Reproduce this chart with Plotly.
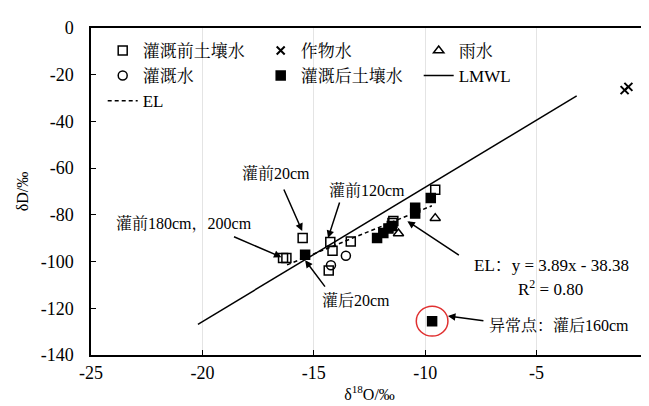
import plotly.graph_objects as go

# Data
pre_x = [-15.5, -16.38, -16.23, -14.26, -14.16, -13.34, -14.33, -11.47, -9.55, -11.43]
pre_y = [-89.9, -98.5, -98.5, -91.6, -95.4, -91.4, -103.8, -83.5, -69.2, -82.6]
crop_x = [-1.05, -0.88]
crop_y = [-26.6, -25.2]
rain_x = [-11.2, -9.55]
rain_y = [-88.0, -81.4]
irr_x = [-14.23, -13.56]
irr_y = [-101.6, -97.5]
post_x = [-15.39, -12.16, -11.88, -11.65, -11.5, -10.45, -10.45, -9.75, -9.69]
post_y = [-97.1, -89.9, -87.8, -85.8, -84.8, -77.0, -79.4, -72.8, -125.5]
lmwl_x = [-20.2, -3.2]
lmwl_slope, lmwl_icpt = 5.75, -10.7
el_x = [-16.2, -9.7]
el_slope, el_icpt = 3.89, -38.38

x_tickvals = [-25, -20, -15, -10, -5, 0]
x_ticktext = ["-25", "-20", "-15", "-10", "-5", "0"]
y_tickvals = [0, -20, -40, -60, -80, -100, -120, -140]
y_ticktext = ["0", "-20", "-40", "-60", "-80", "-100", "-120", "-140"]

FONT = "Liberation Serif, Times New Roman, Noto Serif CJK SC, Noto Sans CJK SC"

fig = go.Figure()
mk = dict(color="black", size=9, line=dict(color="black", width=1.5))
fig.add_trace(go.Scatter(x=pre_x, y=pre_y, mode="markers", name="灌溉前土壤水",
                         marker=dict(symbol="square-open", **mk)))
fig.add_trace(go.Scatter(x=crop_x, y=crop_y, mode="markers", name="作物水",
                         marker=dict(symbol="x-thin-open", color="black", size=8, line=dict(color="black", width=2))))
fig.add_trace(go.Scatter(x=rain_x, y=rain_y, mode="markers", name="雨水",
                         marker=dict(symbol="triangle-up-open", **mk)))
fig.add_trace(go.Scatter(x=irr_x, y=irr_y, mode="markers", name="灌溉水",
                         marker=dict(symbol="circle-open", **mk)))
fig.add_trace(go.Scatter(x=post_x, y=post_y, mode="markers", name="灌溉后土壤水",
                         marker=dict(symbol="square", **mk)))
fig.add_trace(go.Scatter(x=lmwl_x, y=[lmwl_slope * v + lmwl_icpt for v in lmwl_x], mode="lines",
                         name="LMWL", line=dict(color="black", width=1.5)))
fig.add_trace(go.Scatter(x=el_x, y=[el_slope * v + el_icpt for v in el_x], mode="lines",
                         name="EL", line=dict(color="black", width=1.5, dash="4px,3px")))

# arrows (head at data point, tail offset in pixels)
arrows = [
    (-15.52, -86.9, -19, -43),
    (-14.36, -89.9, 12, -37),
    (-16.45, -98.1, -49, -21),
    (-15.39, -99.4, 21, 28),
    (-10.8, -82.7, 53, 35),
    (-8.98, -123.3, 37, 5),
]
for hx, hy, ax, ay in arrows:
    fig.add_annotation(x=hx, y=hy, text="", showarrow=True, arrowhead=2, arrowsize=1,
                       arrowwidth=1.5, arrowcolor="black", ax=ax, ay=ay)

labels = [
    (-16.68, -62.1, "灌前20cm", 16),
    (-12.59, -69.4, "灌前120cm", 16),
    (-20.81, -83.5, "灌前180cm，200cm", 16),
    (-13.12, -116.5, "灌后20cm", 16),
    (-4.32, -101.5, "EL：y = 3.89x - 38.38", 17),
    (-4.36, -111.3, "R<sup>2</sup> = 0.80", 17),
    (-4.0, -127.2, "异常点：灌后160cm", 16),
]
for lx, ly, t, fs in labels:
    fig.add_annotation(x=lx, y=ly, text=t, showarrow=False, xanchor="center", yanchor="middle",
                       font=dict(family=FONT, size=fs, color="black"))

fig.add_shape(type="circle", xref="x", yref="y", x0=-10.4, x1=-8.98, y0=-131.9, y1=-119.1,
              line=dict(color="#e03030", width=1.5))

axis_common = dict(showline=True, linecolor="black", linewidth=1.5, mirror=True,
                   ticks="inside", ticklen=5, tickcolor="black", zeroline=False,
                   tickfont=dict(family=FONT, size=18, color="black"))
fig.update_xaxes(range=[-25, 0], tickmode="array", tickvals=x_tickvals, ticktext=x_ticktext,
                 showgrid=True, gridcolor="#e4e4e4", ticklabelstandoff=1,
                 title=dict(text="δ<sup>18</sup>O/‰", font=dict(family=FONT, size=16, color="black"), standoff=6),
                 **axis_common)
fig.update_yaxes(range=[-140, 0], tickmode="array", tickvals=y_tickvals, ticktext=y_ticktext,
                 showgrid=False, ticklabelstandoff=12,
                 title=dict(text="δD/‰", font=dict(family=FONT, size=16, color="black"), standoff=8),
                 **axis_common)

fig.update_layout(
    width=649, height=406,
    margin=dict(l=83, r=4, t=20, b=59),
    paper_bgcolor="white", plot_bgcolor="white",
    showlegend=True,
    legend=dict(orientation="h", x=0.021, y=0.985, xanchor="left", yanchor="top",
                entrywidth=113, entrywidthmode="pixels", bgcolor="rgba(0,0,0,0)",
                font=dict(family=FONT, size=17, color="black"), tracegroupgap=0),
)

fig.write_html("out.html")
